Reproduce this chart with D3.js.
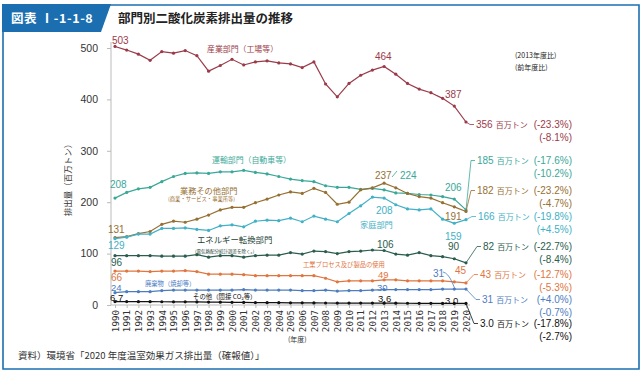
<!DOCTYPE html>
<html><head><meta charset="utf-8">
<script src="https://cdn.jsdelivr.net/npm/d3@7"></script>
<style>
html,body{margin:0;padding:0;background:#fff;}
svg{display:block;font-family:"Noto Sans CJK JP","Noto Sans",sans-serif;}
</style></head>
<body>
<svg id="c" width="642" height="373"></svg>
<script>
const years = d3.range(1990, 2021);
const industry    = [503,496,488,476,493,490,495,485,455,466,478,467,473,475,471,469,462,473,430,405,431,447,457,464,449,431,420,413,402,387,356];
const transport   = [208,219,226,229,240,250,256,257,256,259,259,262,258,255,250,245,242,240,232,229,229,225,227,224,218,217,215,214,211,206,185];
const commercial  = [131,133,139,143,157,163,161,167,175,185,190,190,199,206,214,220,217,227,219,196,200,224,228,237,228,217,211,208,199,191,182];
const residential = [129,132,138,138,149,149,150,147,145,154,156,152,163,165,164,169,162,173,167,162,178,193,210,208,195,187,185,187,167,159,166];
const energy      = [96,96,96,96,95,95,95,98,93,96,96,93,96,97,97,102,99,105,104,100,104,105,107,106,99,97,102,96,94,90,82];
const processes   = [66,66,66,65,66,66,67,65,60,60,60,59,57,57,57,57,57,57,52,45,47,47,47,49,49,47,47,47,47,45,43];
const waste       = [24,26,26,26,28,29,29,29,29,29,29,30,29,29,29,29,28,28,29,27,28,28,29,30,30,30,30,30,31,31,31];
const other       = [6.7,6.6,6.5,6.4,6.3,6.2,6.1,5.9,5.7,5.5,5.3,5.0,4.8,4.6,4.5,4.3,4.2,4.1,3.9,3.8,3.8,3.7,3.7,3.6,3.5,3.4,3.3,3.2,3.1,3.0,3.0];
const yTicks = [0,100,200,300,400,500];
const seriesNames = ["産業部門（工場等）","運輸部門（自動車等）","業務その他部門","家庭部門","エネルギー転換部門","工業プロセス及び製品の使用","廃棄物（焼却等）","その他（間接 CO₂等）"];
const endTotals = ["356","185","182","166","82","43","31","3.0"];
const vs2013 = ["(-23.3%)","(-17.6%)","(-23.2%)","(-19.8%)","(-22.7%)","(-12.7%)","(+4.0%)","(-17.8%)"];
const vsPrev = ["(-8.1%)","(-10.2%)","(-4.7%)","(+4.5%)","(-8.4%)","(-5.3%)","(-0.7%)","(-2.7%)"];

const colors = ["#9b3b4a","#3aa898","#967032","#42b0c6","#2a5d4e","#e0763f","#4e7dbf","#111111"];
const allSeries = [industry, transport, commercial, residential, energy, processes, waste, other];

const svg = d3.select("#c");
const x = d3.scaleLinear().domain([1990, 2020]).range([115, 466]);
const y = d3.scaleLinear().domain([0, 500]).range([305, 48]);
const blue = "#1b6fb1";

// frame
svg.append("path").attr("d","M3,32 L3,369 L639,369 L639,5 L108,5")
  .attr("fill","none").attr("stroke",blue).attr("stroke-width",1.6);
svg.append("path").attr("d","M2,4 L111,4 L101,32 L2,32 Z").attr("fill",blue);
svg.append("text").attr("x",11).attr("y",23).attr("fill","#fff")
  .attr("font-size",12.5).attr("font-weight","bold").attr("letter-spacing",0.6)
  .text("図表 Ⅰ-1-1-8");
svg.append("text").attr("x",118).attr("y",23).attr("fill","#222")
  .attr("font-size",12.5).attr("font-weight","bold").text("部門別二酸化炭素排出量の推移");

// axes
const gy = svg.append("g").attr("transform","translate(111,0)")
  .call(d3.axisLeft(y).tickValues(yTicks).tickSize(4).tickPadding(9));
gy.select(".domain").attr("stroke","#bbb").attr("d","M0,42V305");
gy.selectAll(".tick line").attr("stroke","#bbb");
gy.selectAll("text").attr("font-size",10.5).attr("fill","#333")
  .attr("font-family","'Liberation Sans',sans-serif");

const gx = svg.append("g").attr("transform","translate(0,305)")
  .call(d3.axisBottom(x).tickValues(years).tickSize(3).tickFormat(d3.format("d")));
gx.select(".domain").attr("stroke","#bbb").attr("d","M111,0H470");
gx.selectAll(".tick line").attr("stroke","#bbb");
gx.selectAll("text").attr("font-size",9.2).attr("fill","#333")
  .attr("font-family","'DejaVu Sans Mono',monospace")
  .attr("text-anchor","end").attr("transform","rotate(-90)")
  .attr("x",-5).attr("y",0).attr("dy","0.35em");

svg.append("text").attr("transform","translate(71,178) rotate(-90)")
  .attr("text-anchor","middle").attr("font-size",8.5).attr("fill","#333")
  .text("排出量（百万トン）");
svg.append("text").attr("x",288).attr("y",342).attr("font-size",7).attr("fill","#333").text("(年度)");
svg.append("text").attr("x",18).attr("y",359).attr("font-size",9.5).attr("fill","#333")
  .text("資料）環境省「2020 年度温室効果ガス排出量（確報値）」");

// lines
const line = d3.line().x((d,i)=>x(years[i])).y(d=>y(d));
allSeries.forEach((s,k)=>{
  svg.append("path").datum(s).attr("d",line).attr("fill","none")
    .attr("stroke",colors[k]).attr("stroke-width",1.2);
  svg.append("g").selectAll("circle").data(s).join("circle")
    .attr("cx",(d,i)=>x(years[i])).attr("cy",d=>y(d)).attr("r",1.6).attr("fill",colors[k]);
});

// value labels
function lab(t,xx,yy,c,fs){svg.append("text").attr("x",xx).attr("y",yy).attr("fill",c)
  .attr("font-size",fs||10).attr("font-family","'Liberation Sans',sans-serif").text(t);}
lab("503",112,44,colors[0]); lab("464",375,60,colors[0]); lab("387",445,98,colors[0]);
lab("208",110,188,colors[1]); lab("224",400,179,colors[1]); lab("206",445,191,colors[1]);
lab("131",108,233,colors[2]); lab("237",375,179,colors[2]); lab("191",445,220,colors[2]);
lab("129",108,249,colors[3]); lab("208",376,214,colors[3]); lab("159",445,240,colors[3]);
lab("96",111,266,colors[4]); lab("106",377,248,colors[4]); lab("90",448,250,colors[4]);
lab("66",111,281,colors[5]); lab("49",378,278,colors[5],9.5); lab("45",455,274,colors[5]);
lab("24",111,290.5,colors[6],9.5); lab("30",377,291,colors[6],9.5); lab("31",433,277,colors[6]);
lab("6.7",110,301,colors[7],9.5); lab("3.6",378,301.5,colors[7],9.5); lab("3.0",445,303.5,colors[7],9.5);
svg.append("line").attr("x1",392).attr("y1",177).attr("x2",397).attr("y2",171).attr("stroke",colors[1]).attr("stroke-width",0.8);
svg.append("path").attr("d","M443,272 Q448,273 452,282 L455,"+y(31)).attr("fill","none").attr("stroke",colors[6]).attr("stroke-width",0.8);

// sector labels
function sl(t,xx,yy,c,fs){svg.append("text").attr("x",xx).attr("y",yy).attr("fill",c).attr("font-size",fs).text(t);}
sl(seriesNames[0],207,52,colors[0],7.9);
sl(seriesNames[1],212,163,colors[1],7.9);
sl(seriesNames[2],180,193.5,colors[2],8.2);
sl("(商業・サービス・事業所等)",168,200.5,colors[2],5.3);
sl(seriesNames[3],360,227.5,colors[3],8.2);
sl(seriesNames[4],197,242.5,"#1d3f35",8.4);
sl("(電気熱配分統計誤差を除く。)",195,253,"#1d3f35",4.5);
sl(seriesNames[5],303,267,colors[5],6.3);
sl(seriesNames[6],145,285.5,colors[6],6.3);
sl(seriesNames[7],193,299,colors[7],6.4);

// right side header
sl("(2013年度比)",515,58,"#222",7);
sl("(前年度比)",515,70,"#222",7);

// end labels
const labY   = [128,164,194,220,250,278,303,327];
const labX   = [476,477,477,478,483,480,482,480];
allSeries.forEach((s,k)=>{
  const px = x(2020), py = y(s[s.length-1]);
  const ly = labY[k]-3.5;
  svg.append("path").attr("d",`M${px},${py} L${labX[k]-6},${ly} L${labX[k]-2},${ly}`)
    .attr("fill","none").attr("stroke",colors[k]).attr("stroke-width",0.8);
  const t = svg.append("text").attr("x",labX[k]).attr("y",labY[k]).attr("fill",colors[k]).attr("font-size",10);
  t.append("tspan").attr("font-family","'Liberation Sans',sans-serif").text(endTotals[k]);
  t.append("tspan").attr("font-size",8).attr("dx",3).text("百万トン");
  svg.append("text").attr("x",572).attr("y",labY[k]).attr("text-anchor","end").attr("fill",colors[k])
    .attr("font-size",10).attr("font-family","'Liberation Sans',sans-serif").text(vs2013[k]);
  svg.append("text").attr("x",572).attr("y",labY[k]+12.5).attr("text-anchor","end").attr("fill",colors[k])
    .attr("font-size",10).attr("font-family","'Liberation Sans',sans-serif").text(vsPrev[k]);
});
</script>
</body></html>
